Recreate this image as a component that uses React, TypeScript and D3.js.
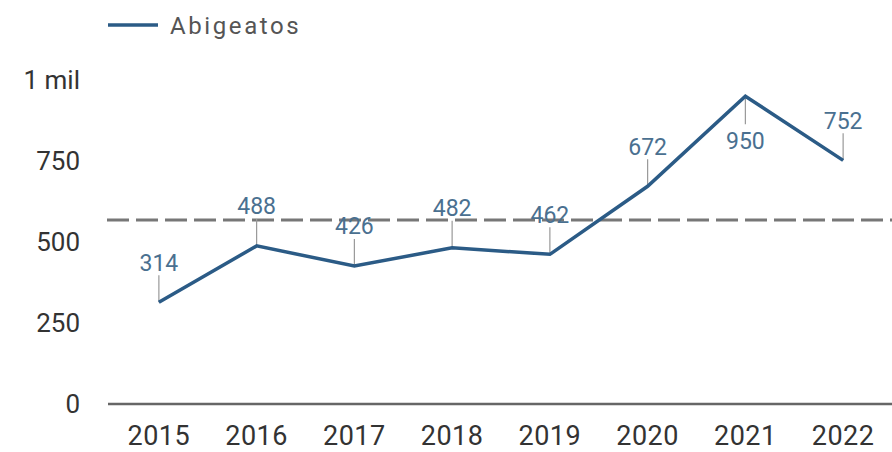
import React from "react";
import * as d3 from "d3";

const years = ["2015", "2016", "2017", "2018", "2019", "2020", "2021", "2022"];
const abigeatos = [314, 488, 426, 482, 462, 672, 950, 752];
const yTicks = [0, 250, 500, 750, 1000];
const yTickLabels = ["0", "250", "500", "750", "1 mil"];
const labelBelow = [false, false, false, false, false, false, true, false];
const seriesName = "Abigeatos";

const W = 892;
const H = 452;

export default function App() {
  const x = d3.scaleBand<string>().domain(years).range([110, 892]).padding(0);
  const y = d3.scaleLinear().domain([0, 1000]).range([404, 80]);
  const cx = (yr: string) => (x(yr) ?? 0) + x.bandwidth() / 2;
  const avg = d3.mean(abigeatos) ?? 0;
  const line = d3
    .line<number>()
    .x((_, i) => cx(years[i]))
    .y((d) => y(d));

  const font = "Roboto, 'Noto Sans', sans-serif";
  return (
    <svg
      width={W}
      height={H}
      style={{ position: "absolute", left: 0, top: 0, background: "#fff" }}
    >
      {/* legend */}
      <line x1={108} x2={158} y1={25} y2={25} stroke="#2b5b86" strokeWidth={3.5} />
      <text
        x={170}
        y={34}
        fontFamily={font}
        fontSize={24}
        letterSpacing={2.6}
        fill="#555"
      >
        {seriesName}
      </text>

      {/* y tick labels */}
      {yTicks.map((t, i) => (
        <text
          key={t}
          x={80}
          y={y(t)}
          dy="0.36em"
          textAnchor="end"
          fontFamily={font}
          fontSize={26}
          fill="#333"
        >
          {yTickLabels[i]}
        </text>
      ))}

      {/* baseline */}
      <line x1={108} x2={892} y1={y(0)} y2={y(0)} stroke="#666" strokeWidth={2.5} />

      {/* x labels */}
      {years.map((yr) => (
        <text
          key={yr}
          x={cx(yr)}
          y={445}
          textAnchor="middle"
          fontFamily={font}
          fontSize={27}
          letterSpacing={0.5}
          fill="#333"
        >
          {yr}
        </text>
      ))}

      {/* average dashed line */}
      <line
        x1={107}
        x2={892}
        y1={y(avg)}
        y2={y(avg)}
        stroke="#777"
        strokeWidth={3}
        strokeDasharray="22 7"
      />

      {/* leaders */}
      {abigeatos.map((v, i) => {
        const px = cx(years[i]);
        const py = y(v);
        const below = labelBelow[i];
        return (
          <line
            key={"l" + i}
            x1={px}
            x2={px}
            y1={py}
            y2={below ? py + 28 : py - 27}
            stroke="#999"
            strokeWidth={1.2}
          />
        );
      })}

      {/* series line */}
      <path
        d={line(abigeatos) ?? ""}
        fill="none"
        stroke="#2b5b86"
        strokeWidth={3.5}
        strokeLinejoin="miter"
      />

      {/* data labels */}
      {abigeatos.map((v, i) => {
        const px = cx(years[i]);
        const py = y(v);
        const below = labelBelow[i];
        return (
          <text
            key={"t" + i}
            x={px}
            y={below ? py + 45 : py - 40}
            dy="0.36em"
            textAnchor="middle"
            fontFamily={font}
            fontSize={23}
            fill="#4a7090"
          >
            {v}
          </text>
        );
      })}
    </svg>
  );
}
